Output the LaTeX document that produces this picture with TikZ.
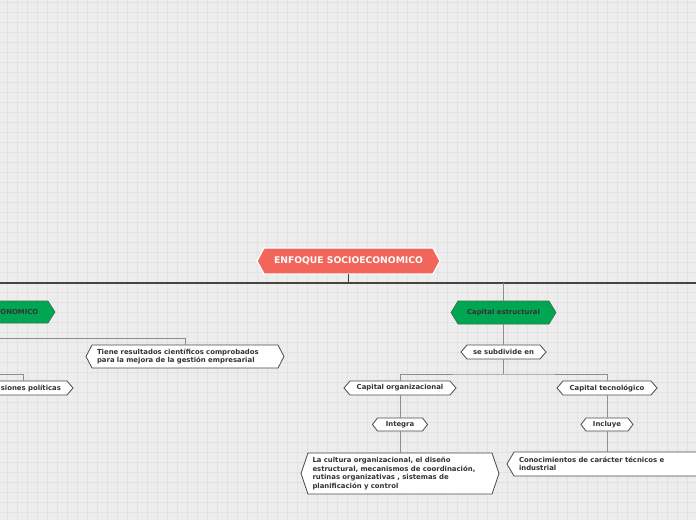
\documentclass[tikz,border=0pt]{standalone}
\usepackage{fontspec}
\setmainfont{DejaVu Sans}
\definecolor{bgc}{HTML}{EDEDED}
\definecolor{gridc}{HTML}{E2E2E2}
\definecolor{redc}{HTML}{F1655B}
\definecolor{greenc}{HTML}{00A651}
\definecolor{greenedge}{HTML}{3C6B4C}
\definecolor{edgec}{HTML}{4A4A4A}
\definecolor{textc}{HTML}{333333}
\definecolor{mainc}{HTML}{454545}
\definecolor{connc}{HTML}{8E8E8E}
\newcommand\hexpath[6]{\path[#1] (#2,{(#4+#5)/2}) -- ({#2+#6},#4) -- ({#3-#6},#4) -- (#3,{(#4+#5)/2}) -- ({#3-#6},#5) -- ({#2+#6},#5) -- cycle;}
\tikzset{
  txt/.style={inner sep=0pt, font=\bfseries\fontsize{6.9}{8.4}\selectfont, text=textc},
  roottxt/.style={inner sep=0pt, font=\bfseries\fontsize{9.2}{11}\selectfont, text=white},
  whitehex/.style={fill=white, draw=edgec, line width=0.8pt, line join=miter},
  greenhex/.style={fill=greenc, draw=greenedge, line width=0.6pt},
  redhex/.style={fill=redc, draw=white, line width=1.3pt},
  mainline/.style={draw=mainc, line width=1.4pt},
  conn/.style={draw=connc, line width=0.9pt},
  gridline/.style={draw=gridc, line width=0.6pt}
}
\begin{document}
\begin{tikzpicture}[x=1pt,y=-1pt]
\useasboundingbox (0,0) rectangle (696,520);
\clip (0,0) rectangle (696,520);
\fill[bgc] (0,0) rectangle (696,520);
\foreach \i in {0,...,69} \draw[gridline] ({7+10*\i},0) -- ++(0,520);
\foreach \j in {0,...,51} \draw[gridline] (0,{2+10*\j}) -- ++(696,0);

% shapes
\hexpath{redhex}{257}{440}{248}{274}{7}
\node[roottxt, minimum width=183, minimum height=26] (root) at (348.5,261) {ENFOQUE SOCIOECONOMICO};

\hexpath{greenhex}{-60}{55}{301}{323}{7}
\node[txt, anchor=east, minimum height=22] (lgreen) at (38.5,312) {ONOMICO};

\hexpath{whitehex}{86}{284}{345}{368}{6}
\node[txt, minimum width=198, minimum height=23, text width=176, align=left] (tiene) at (185,356.5) {Tiene resultados científicos comprobados\\para la mejora de la gestión empresarial};

\hexpath{whitehex}{-40}{73}{381}{395}{6}
\node[txt, minimum width=100, minimum height=14, text width=76, align=right] (isio) at (23,388) {isiones políticas};

\hexpath{greenhex}{451}{556}{301}{324}{7}
\node[txt, minimum width=105, minimum height=23] (estr) at (503.5,312.5) {Capital estructural};

\hexpath{whitehex}{461}{546}{345}{359}{6}
\node[txt, minimum width=85, minimum height=14] (sub) at (503.5,352) {se subdivide en};

\hexpath{whitehex}{344}{456}{381}{395}{6}
\node[txt, minimum width=112, minimum height=14] (org) at (400,388) {Capital organizacional};

\hexpath{whitehex}{557}{657}{381}{395}{6}
\node[txt, minimum width=100, minimum height=14] (tec) at (607,388) {Capital tecnológico};

\hexpath{whitehex}{372.5}{427.5}{418}{431}{5}
\node[txt, minimum width=55, minimum height=13] (integ) at (400,424.5) {Integra};

\hexpath{whitehex}{301}{499}{453}{494}{7}
\node[txt, minimum width=198, minimum height=41, text width=175, align=left] (cult) at (400,473.5) {La cultura organizacional, el diseño\\estructural, mecanismos de coordinación,\\rutinas organizativas , sistemas de\\planificación y control};

\hexpath{whitehex}{581}{633}{418}{431}{5}
\node[txt, minimum width=52, minimum height=13] (incl) at (607,424.5) {Incluye};

\hexpath{whitehex}{507}{730}{452}{476}{7}
\node[txt, minimum width=223, minimum height=24, text width=199, align=left] (cono) at (618.5,464) {Conocimientos de carácter técnicos e\\industrial};

% connectors
\coordinate (bus) at (348.5,283);
\coordinate (busL) at (0,283);
\coordinate (busR) at (696,283);
\draw[mainline] (root.south) -- (bus);
\draw[mainline] (busL) -- (busR);
\draw[conn] (estr.north) -- (estr.north |- bus);
\draw[conn] (estr.south) -- (sub.north);
\coordinate (b2) at (503.5,374);
\draw[conn] (sub.south) -- (b2);
\draw[conn] (org.north) |- (b2) -| (tec.north);
\draw[conn] (org.south) -- (integ.north);
\draw[conn] (integ.south) -- (cult.north);
\draw[conn] (tec.south) -- (incl.north);
\draw[conn] (incl.south) -- (incl.south |- cono.north);
\coordinate (l1) at (0,338);
\coordinate (l2) at (0,374);
\draw[conn] (l1) -| (tiene.north);
\draw[conn] (l2) -| (isio.north);
\end{tikzpicture}
\end{document}
